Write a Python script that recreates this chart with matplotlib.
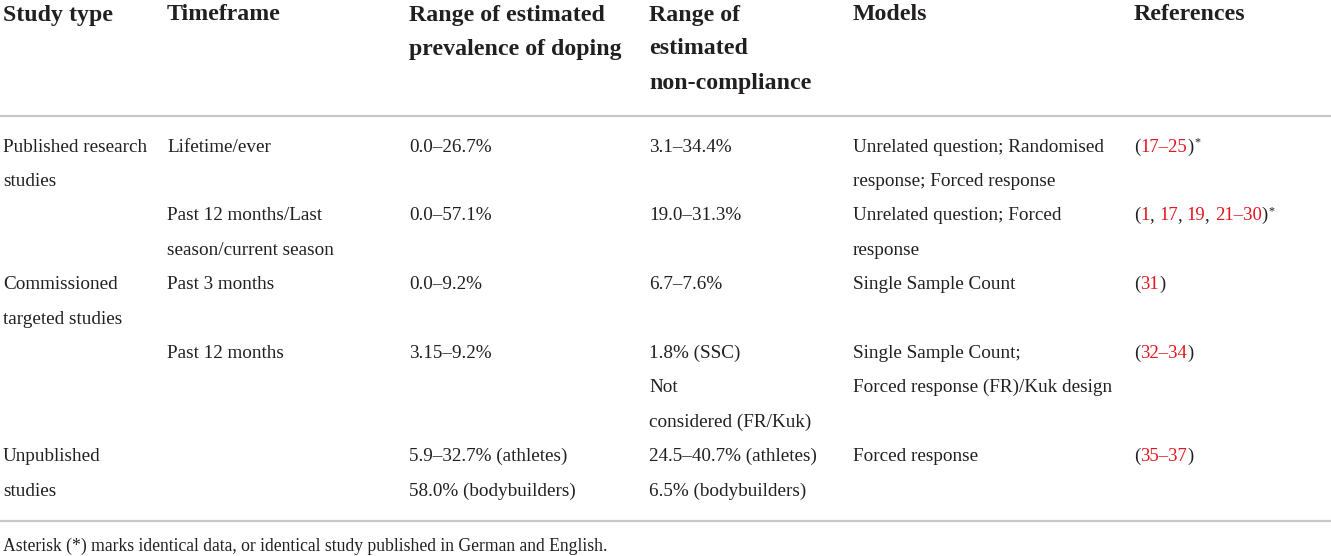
import re
import matplotlib.pyplot as plt

# table content
headers = [
    ["Study type"],
    ["Timeframe"],
    ["Range of estimated", "prevalence of doping"],
    ["Range of", "estimated", "non-compliance"],
    ["Models"],
    ["References"],
]

study_type = [["Published research", "studies"], [], ["Commissioned", "targeted studies"], [], ["Unpublished", "studies"]]
timeframe = [["Lifetime/ever"], ["Past 12 months/Last", "season/current season"], ["Past 3 months"], ["Past 12 months"], []]
prevalence = [["0.0–26.7%"], ["0.0–57.1%"], ["0.0–9.2%"], ["3.15–9.2%"],
              ["5.9–32.7% (athletes)", "58.0% (bodybuilders)"]]
non_compliance = [["3.1–34.4%"], ["19.0–31.3%"], ["6.7–7.6%"], ["1.8% (SSC)", "Not", "considered (FR/Kuk)"],
                  ["24.5–40.7% (athletes)", "6.5% (bodybuilders)"]]
models = [["Unrelated question; Randomised", "response; Forced response"], ["Unrelated question; Forced", "response"],
          ["Single Sample Count"], ["Single Sample Count;", "Forced response (FR)/Kuk design"], ["Forced response"]]
references = ["(17–25)*", "(1, 17, 19, 21–30)*", "(31)", "(32–34)", "(35–37)"]

footnote = "Asterisk (*) marks identical data, or identical study published in German and English."

col_x = [3, 167, 409, 649, 853, 1134]
TEXT = "#231f20"
RED = "#e3151f"
RULE = "#c8c8c8"
FONT = "Liberation Serif"
SIZE = 13.8
REF_SIZE = 13.4

fig = plt.figure(figsize=(13.31, 5.56), dpi=100)
ax = fig.add_axes([0, 0, 1, 1])
ax.set_xlim(0, 1331)
ax.set_ylim(556, 0)
ax.axis("off")
renderer = fig.canvas.get_renderer()

# header
for x, lines in zip(col_x, headers):
    for i, line in enumerate(lines):
        ax.text(x, 20.5 + i * 34, line, fontsize=17.2, fontweight="bold", family=FONT,
                color=TEXT, va="baseline", ha="left")

ax.axhline(116, color=RULE, lw=1.6)

# body rows
line_h = 34.4
y = 151.5
columns = [study_type, timeframe, prevalence, non_compliance, models]
for r in range(len(references)):
    cells = [c[r] for c in columns]
    for x, lines in zip(col_x, cells):
        for i, line in enumerate(lines):
            ax.text(x, y + i * line_h, line, fontsize=SIZE, family=FONT, color=TEXT,
                    va="baseline", ha="left")

    # references: numbers in red, punctuation in dark, trailing asterisk raised
    ref = references[r]
    star = ref.endswith("*")
    ref = ref.rstrip("*")
    parts = [p for p in re.split(r"([\d–]+)", ref) if p]
    x = col_x[5]
    for p in parts:
        colour = RED if re.fullmatch(r"[\d–]+", p) else TEXT
        t = ax.text(x, y, p, fontsize=REF_SIZE, family=FONT, color=colour,
                    va="baseline", ha="left")
        x += t.get_window_extent(renderer).width  # 1 px per data unit
    if star:
        ax.text(x + 1, y - 6, "*", fontsize=REF_SIZE * 0.65, family=FONT, color=TEXT,
                va="baseline", ha="left")

    n = max(len(c) for c in cells)
    y += max(n, 1) * line_h

ax.axhline(521, color=RULE, lw=1.6)

ax.text(3, 550.5, footnote, fontsize=12.7, family=FONT, color=TEXT, va="baseline", ha="left")

fig.savefig("out.png", dpi=100)
